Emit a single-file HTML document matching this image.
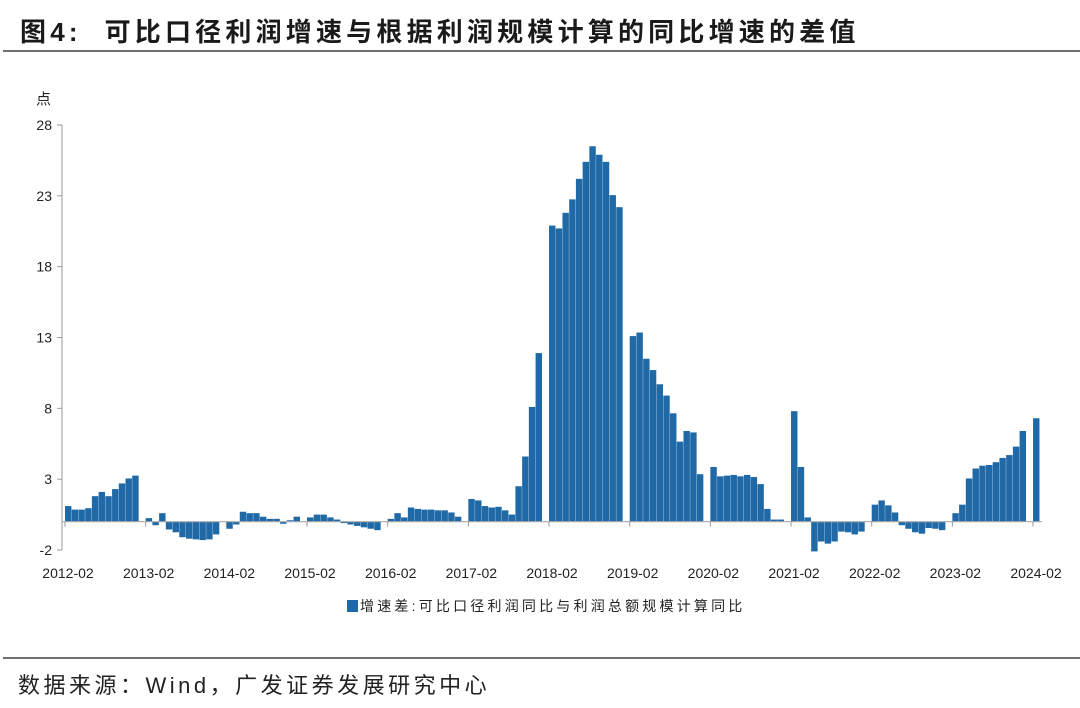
<!DOCTYPE html>
<html><head><meta charset="utf-8">
<style>
html,body{margin:0;padding:0;background:#fff;}
body{width:1080px;height:708px;position:relative;overflow:hidden;font-family:"Liberation Sans","Noto Sans CJK SC",sans-serif;}
#title{position:absolute;left:20px;top:12px;font-size:26px;font-weight:bold;color:#1a1a1a;letter-spacing:4.2px;white-space:nowrap;}
#topline{position:absolute;left:3px;top:50px;width:1077px;height:2px;background:#707070;}
#botline{position:absolute;left:3px;top:657px;width:1077px;height:2px;background:#707070;}
#source{position:absolute;left:18px;top:668px;font-size:22px;color:#222;white-space:nowrap;letter-spacing:3.5px;}
svg{position:absolute;left:0;top:0;}
</style></head><body>
<div id="title">图4:&nbsp; 可比口径利润增速与根据利润规模计算的同比增速的差值</div>
<div id="topline"></div>
<svg id="chart" width="1080" height="708"></svg>
<div id="botline"></div>
<div id="source">数据来源：Wind，广发证券发展研究中心</div>
<script>
const years = ["2012","2013","2014","2015","2016","2017","2018","2019","2020","2021","2022","2023","2024"];
const tickLabels = ["2012-02","2013-02","2014-02","2015-02","2016-02","2017-02","2018-02","2019-02","2020-02","2021-02","2022-02","2023-02","2024-02"];
const yTicks = [-2,3,8,13,18,23,28];
// Feb..Dec values per year (January merged / absent)
const v2012 = [1.1,0.85,0.85,0.95,1.8,2.1,1.8,2.3,2.7,3.05,3.25];
const v2013 = [0.25,-0.25,0.6,-0.55,-0.75,-1.1,-1.2,-1.25,-1.3,-1.25,-0.9];
const v2014 = [-0.5,-0.2,0.7,0.6,0.6,0.35,0.2,0.2,-0.15,0.1,0.35];
const v2015 = [0.3,0.5,0.5,0.3,0.15,-0.1,-0.2,-0.3,-0.4,-0.5,-0.6];
const v2016 = [0.2,0.6,0.3,1.0,0.9,0.85,0.85,0.8,0.8,0.65,0.35];
const v2017 = [1.6,1.5,1.1,1.0,1.05,0.8,0.5,2.5,4.6,8.1,11.9];
const v2018 = [20.9,20.7,21.8,22.75,24.2,25.4,26.5,25.9,25.4,23.05,22.2];
const v2019 = [13.1,13.35,11.5,10.7,9.7,8.9,7.65,5.65,6.4,6.3,3.35];
const v2020 = [3.86,3.2,3.25,3.3,3.2,3.3,3.15,2.65,0.9,0.15,0.15];
const v2021 = [7.8,3.86,0.3,-2.1,-1.4,-1.55,-1.4,-0.7,-0.75,-0.9,-0.7];
const v2022 = [1.2,1.5,1.15,0.65,-0.25,-0.5,-0.75,-0.85,-0.45,-0.5,-0.6];
const v2023 = [0.6,1.2,3.05,3.75,3.95,4.0,4.2,4.5,4.7,5.3,6.4];
const v2024 = [7.3];
const series = [v2012,v2013,v2014,v2015,v2016,v2017,v2018,v2019,v2020,v2021,v2022,v2023,v2024];

const NS="http://www.w3.org/2000/svg";
const svg=document.getElementById('chart');
const X0=65, YEARW=80.67, SLOT=YEARW/12;
const Y_TOP=125, Y_BOT=550, VMIN=-2, VMAX=28;
function yScale(v){return Y_BOT-(v-VMIN)/(VMAX-VMIN)*(Y_BOT-Y_TOP);}
function xScale(yearIdx,monthIdx){return X0+yearIdx*YEARW+monthIdx*SLOT;}
function mk(tag,attrs){const e=document.createElementNS(NS,tag);for(const k in attrs)e.setAttribute(k,attrs[k]);svg.appendChild(e);return e;}

let ax=mk('line',{x1:62,y1:Y_TOP,x2:62,y2:Y_BOT,stroke:'#999','stroke-width':1});


let unit=mk('text',{x:36,y:104,'font-size':15,fill:'#222'});
unit.textContent='点';


yTicks.forEach(t=>{
  const y=yScale(t);
  const tl=mk('line',{x1:57,y1:y,x2:62,y2:y,stroke:'#999','stroke-width':1});
  
  
  const tx=mk('text',{x:52,y:y+5,'font-size':14,fill:'#222','text-anchor':'end'});
  tx.textContent=String(t);
  
  
});
series.forEach((vals,yi)=>{
  vals.forEach((v,mi)=>{
    const x=xScale(yi,mi);
    const y0=yScale(0), y1=yScale(v);
    const r=mk('rect',{x:x,y:Math.min(y0,y1),width:SLOT-0.3,height:Math.max(0.5,Math.abs(y1-y0)),fill:'#1f69a6'});
    
    
  });
});
const zy=yScale(0);
let zl=mk('line',{x1:62,y1:zy,x2:1042,y2:zy,stroke:'#aaa','stroke-width':1.2});


tickLabels.forEach((lab,i)=>{
  const x=X0+i*YEARW;
  const tl=mk('line',{x1:x,y1:zy,x2:x,y2:zy+5,stroke:'#999','stroke-width':1});
  
  
  const tx=mk('text',{x:x+3,y:578,'font-size':14,fill:'#222','text-anchor':'middle'});
  tx.textContent=lab;
  
  
});
let lg=mk('rect',{x:347,y:600,width:11,height:12,fill:'#1f69a6'});


let lt=mk('text',{x:360,y:611,'font-size':14,fill:'#222','letter-spacing':'3.2'});
lt.textContent='增速差:可比口径利润同比与利润总额规模计算同比';


</script>
</body></html>
